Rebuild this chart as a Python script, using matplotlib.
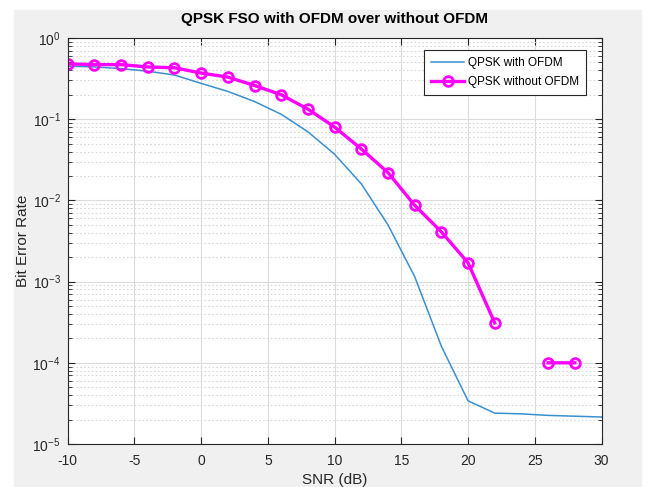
import numpy as np
import matplotlib
matplotlib.use("Agg")
import matplotlib.pyplot as plt
from matplotlib.patches import Rectangle

snr_ofdm = [-10, -8, -6, -4, -2, 0, 2, 4, 6, 8, 10, 12, 14, 16, 18, 20, 22, 24, 26, 28, 30]
ber_ofdm = [0.45, 0.44, 0.42, 0.39, 0.35, 0.276, 0.22, 0.165, 0.115, 0.07, 0.037, 0.016,
            0.005, 0.00115, 0.00016, 3.4e-5, 2.4e-5, 2.35e-5, 2.25e-5, 2.2e-5, 2.15e-5]

snr_no = [-10, -8, -6, -4, -2, 0, 2, 4, 6, 8, 10, 12, 14, 16, 18, 20, 22, 24, 26, 28]
ber_no = [0.48, 0.47, 0.47, 0.44, 0.43, 0.37, 0.33, 0.26, 0.2, 0.133, 0.08, 0.043,
          0.022, 0.0087, 0.0041, 0.0017, 0.00031, 0, 1e-4, 1e-4]

plt.rcParams.update({
    "font.family": "Liberation Sans",
    "font.size": 10,
    "axes.unicode_minus": False,
})

ber_no = np.array(ber_no, dtype=float)
ber_no = np.where(ber_no > 0, ber_no, np.nan)   # zero BER is not drawn on log axis

fig = plt.figure(figsize=(6.52, 4.87), dpi=100, facecolor="white")
fig.patches.append(Rectangle((14/652, 0), (641-14)/652, 477/487,
                             transform=fig.transFigure, color="#f0f0f0", zorder=-1))

ax = fig.add_axes([67.7/652, 1-444/487, (601.5-67.7)/652, (444-38)/487])
ax.semilogy(snr_ofdm, ber_ofdm, color="#3a8fd0", lw=1.1, label="QPSK with OFDM")
ax.semilogy(snr_no, ber_no, color="#ff00ff", lw=2.4, marker="o", ms=7,
            mfc="none", mew=2, label="QPSK without OFDM")

ax.set_xlim(-10, 30)
ax.set_ylim(1e-5, 1)
ax.set_xticks(np.arange(-10, 31, 5))
ax.grid(True, which="major", color="#dcdcdc", lw=0.8, ls="-")
ax.grid(True, which="minor", axis="y", color="#d8d8d8", lw=0.8, ls=(0, (1.5, 2)))
ax.tick_params(which="both", direction="in", top=True, right=True, colors="#262626",
               labelsize=10)
ax.tick_params(which="major", length=5)
ax.tick_params(which="minor", length=3)
ax.tick_params(axis="x", pad=7)
ax.tick_params(axis="y", pad=5)
for s in ax.spines.values():
    s.set_color("#262626")
    s.set_linewidth(0.8)

ax.set_xlabel("SNR (dB)", fontsize=11, color="#262626", labelpad=4)
ax.set_ylabel("Bit Error Rate", fontsize=11, color="#262626", labelpad=2)
ax.set_title("QPSK FSO with OFDM over without OFDM", fontsize=11, fontweight="bold",
             pad=11)

leg = ax.legend(loc="upper right", bbox_to_anchor=(0.982, 0.985), fontsize=8.5,
                fancybox=False, framealpha=1, edgecolor="#262626",
                handlelength=2.8, handletextpad=0.3, borderpad=0.6,
                labelspacing=0.6)
leg.get_frame().set_linewidth(0.8)

fig.savefig("out.png", dpi=100)
